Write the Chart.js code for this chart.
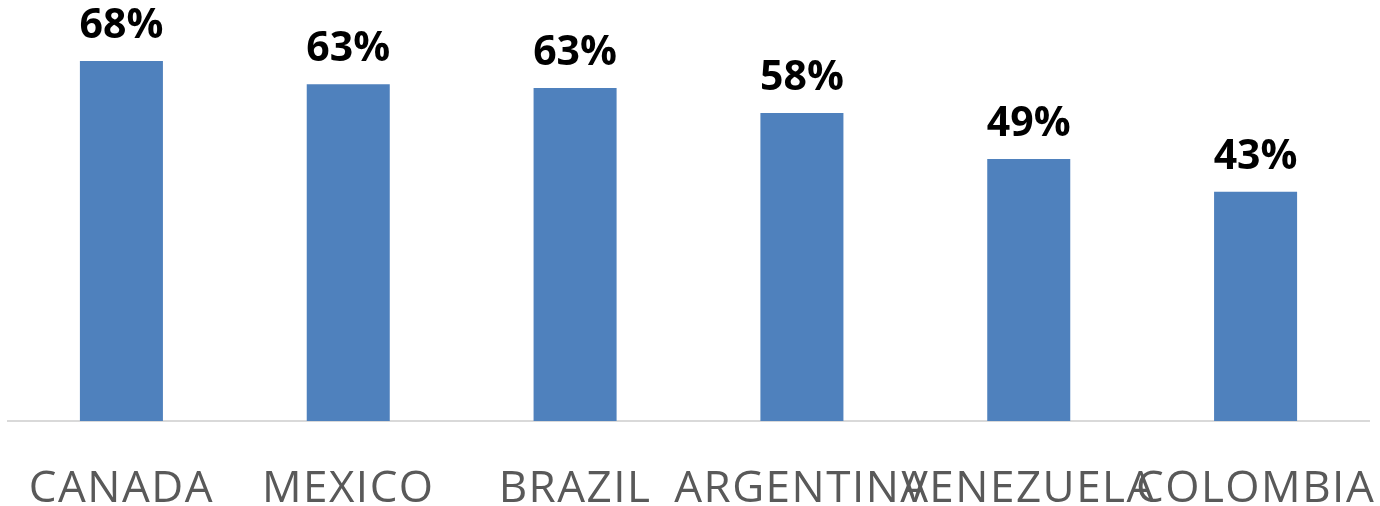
<!DOCTYPE html>
<html>
<head>
<meta charset="utf-8">
<script src="https://cdn.jsdelivr.net/npm/chart.js@4/dist/chart.umd.min.js"></script>
<style>
  html, body { margin: 0; padding: 0; background: #fff; }
  #wrap { width: 1380px; height: 506px; position: relative; }
</style>
</head>
<body>
<div id="wrap"><canvas id="c" width="1380" height="506"></canvas></div>
<script>
const categories = ["CANADA", "MEXICO", "BRAZIL", "ARGENTINA", "VENEZUELA", "COLOMBIA"];
const values = [68, 63.6, 62.9, 58.2, 49.5, 43.3];
const valueLabels = ["68%", "63%", "63%", "58%", "49%", "43%"];

const spacingPlugin = {
  id: 'spacing',
  beforeDraw(chart) {
    chart.ctx.letterSpacing = '1.5px';
  }
};

const dataLabelPlugin = {
  id: 'dataLabels',
  afterDatasetsDraw(chart) {
    const ctx = chart.ctx;
    const meta = chart.getDatasetMeta(0);
    ctx.save();
    ctx.letterSpacing = '0px';
    ctx.font = 'bold 41px "Open Sans"';
    ctx.fillStyle = '#000000';
    ctx.textAlign = 'center';
    ctx.textBaseline = 'alphabetic';
    meta.data.forEach((bar, i) => {
      ctx.fillText(valueLabels[i], bar.x, bar.y - 23);
    });
    ctx.restore();
  }
};

new Chart(document.getElementById('c'), {
  type: 'bar',
  data: {
    labels: categories,
    datasets: [{
      data: values,
      backgroundColor: '#4f81bd',
      borderWidth: 0,
      categoryPercentage: 1,
      barPercentage: 0.366
    }]
  },
  options: {
    responsive: false,
    animation: false,
    devicePixelRatio: 1,
    layout: { padding: { top: 24, left: 8, right: 11, bottom: 0 } },
    plugins: { legend: { display: false }, tooltip: { enabled: false }, title: { display: false } },
    scales: {
      x: {
        afterFit(scale) {
          scale.height = 85;
          scale.paddingLeft = 0;
          scale.paddingRight = 0;
        },
        grid: { display: false, drawTicks: false },
        border: { display: true, color: '#d9d9d9', width: 2 },
        ticks: {
          autoSkip: false,
          maxRotation: 0,
          minRotation: 0,
          padding: 42,
          color: '#595959',
          font: { family: '"Open Sans"', size: 44 }
        }
      },
      y: {
        display: false,
        min: 0,
        max: 75
      }
    }
  },
  plugins: [spacingPlugin, dataLabelPlugin]
});
</script>
</body>
</html>
